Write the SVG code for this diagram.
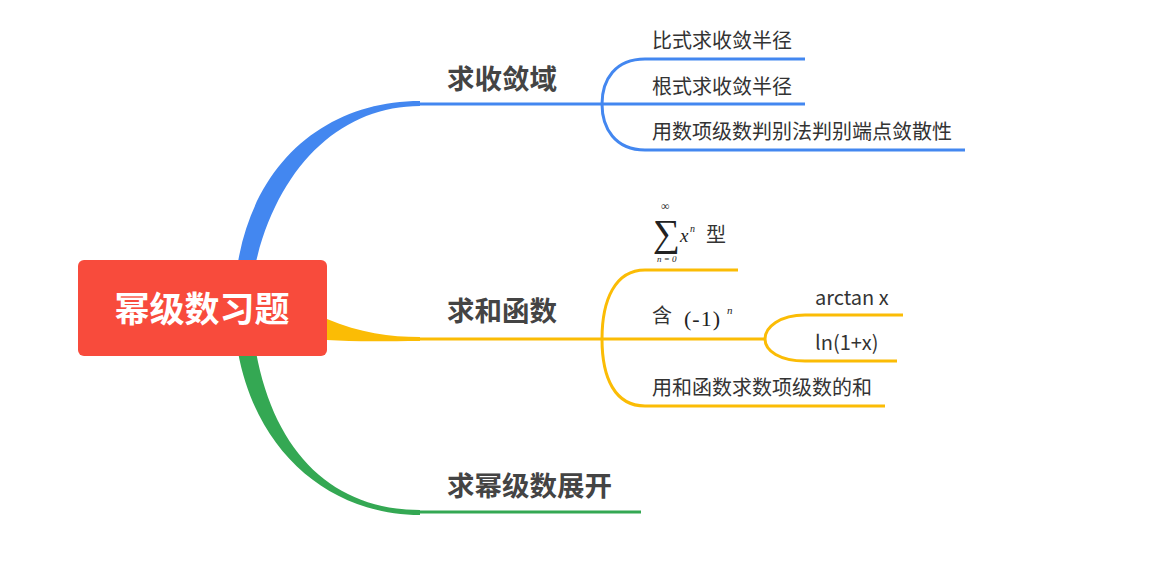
<svg xmlns="http://www.w3.org/2000/svg" width="1158" height="566" viewBox="0 0 1158 566">
<style>
.t{font-family:"Noto Sans CJK SC","Noto Sans",sans-serif;fill:#333;font-size:20px}
.h{font-family:"Noto Sans CJK SC",sans-serif;fill:#444;font-size:27.5px;font-weight:bold}
.m{font-family:"Liberation Serif",serif;fill:#222}
.b{fill:none;stroke:#4387f0;stroke-width:3}
.y{fill:none;stroke:#fbbc05;stroke-width:3}
.g{fill:none;stroke:#34a853;stroke-width:3}
</style>
<rect width="1158" height="566" fill="#fff"/>
<g id="connectors">
<path d="M238,262 C256,158 330,101 420,101 L420,106 C342,106 278,165 255,266 Z" fill="#4387f0"/>
<path d="M327,319 C360,333 390,337 420,337 L420,341 C390,341 355,342 327,340 Z" fill="#fbbc05"/>
<path d="M238,352 C256,452 330,515 420,515 L420,510 C335,510 275,455 256,352 Z" fill="#34a853"/>
<path class="b" d="M420,104 H600 M805,59 H645 C615,59 602,80 602,104 C602,128 615,150 645,150 H965 M600,104 H805"/>
<path class="y" d="M420,339 H765 M738,270 H645 C615,270 602,300 602,339 C602,378 615,406 645,406 H885"/>
<path class="y" d="M903,315 H805 C780,315 765,327 765,339 C765,351 780,361 805,361 H897"/>
<path class="g" d="M420,512 H641"/>
</g>
<g id="root">
<rect x="78" y="260" width="249" height="96" rx="6" fill="#f84b3c"/>
<text x="202" y="322" text-anchor="middle" font-family="Noto Sans CJK SC,sans-serif" font-size="35" font-weight="bold" fill="#fff">幂级数习题</text>
</g>
<g id="n1"><text class="h" x="447" y="89">求收敛域</text></g>
<g id="n2"><text class="h" x="447" y="321">求和函数</text></g>
<g id="n3"><text class="h" x="447" y="496">求幂级数展开</text></g>
<g id="n1a"><text class="t" x="652" y="48">比式求收敛半径</text></g>
<g id="n1b"><text class="t" x="652" y="94">根式求收敛半径</text></g>
<g id="n1c"><text class="t" x="652" y="139">用数项级数判别法判别端点敛散性</text></g>
<g id="n2a">
<text class="m" x="653" y="246" font-size="38">∑</text>
<text class="m" x="661" y="210" font-size="12">∞</text>
<text class="m" x="657" y="262" font-size="9" font-style="italic">n = 0</text>
<text class="m" x="680" y="242" font-size="19" font-style="italic">x</text>
<text class="m" x="690" y="232" font-size="10" font-style="italic">n</text>
<text class="t" x="706" y="242">型</text>
</g>
<g id="n2b">
<text class="t" x="652" y="323">含</text>
<text class="m" x="684" y="326" font-size="22" letter-spacing="1">(-1)</text>
<text class="m" x="727" y="314" font-size="11" font-style="italic">n</text>
</g>
<g id="n2c"><text class="t" x="652" y="395">用和函数求数项级数的和</text></g>
<g id="n2b1"><text class="t" x="815" y="305">arctan x</text></g>
<g id="n2b2"><text class="t" x="815" y="350">ln(1+x)</text></g>
</svg>
